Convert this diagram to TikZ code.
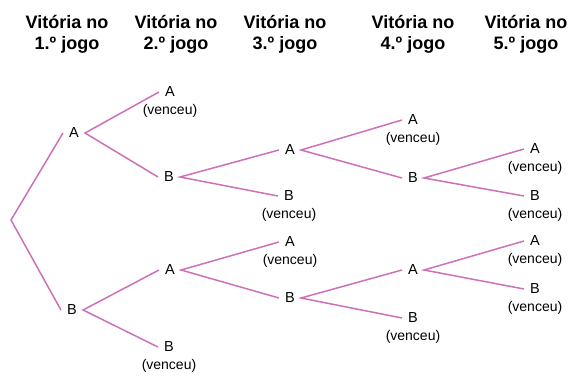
\documentclass[tikz,border=0pt]{standalone}
\usepackage{fontspec}
\setmainfont{Liberation Sans}
\begin{document}
\begin{tikzpicture}[x=1pt,y=-1pt,
  hdr/.style={font=\fontsize{18}{21}\selectfont\bfseries, align=center, inner sep=0pt},
  lt/.style={font=\fontsize{14.5}{16}\selectfont, inner sep=6pt},
  won/.style={lt, label={[font=\fontsize{14}{16}\selectfont, inner sep=0pt, yshift=-1pt]below:(venceu)}},
  br/.style={draw={rgb,255:red,206;green,112;blue,184}, line width=1.5pt}]
\useasboundingbox (0,0) rectangle (573,377);
% headers
\node[hdr] (h1) at (67,34) {Vitória no\\1.º jogo};
\node[hdr] (h2) at (176,34) {Vitória no\\2.º jogo};
\node[hdr] (h3) at (285,34) {Vitória no\\3.º jogo};
\node[hdr] (h4) at (413,34) {Vitória no\\4.º jogo};
\node[hdr] (h5) at (526,34) {Vitória no\\5.º jogo};
% tree
\coordinate (r) at (11,220);
\node[lt] (A1) at (74,133) {A};
\node[lt] (B1) at (72,310) {B};
\node[won] (A2) at (170,92) {A};
\node[lt] (B2) at (169,177) {B};
\node[lt] (A3) at (290,150) {A};
\node[won] (B3) at (289,196) {B};
\node[won] (A4) at (413,120) {A};
\node[lt] (B4) at (413,178) {B};
\node[won] (A5) at (535,149) {A};
\node[won] (B5) at (535,196) {B};
\node[lt] (A6) at (170,270) {A};
\node[won] (B6) at (169,347) {B};
\node[won] (A7) at (290,242) {A};
\node[lt] (B7) at (290,298) {B};
\node[lt] (A8) at (413,270) {A};
\node[won] (B8) at (413,318) {B};
\node[won] (A9) at (535,241) {A};
\node[won] (B9) at (535,289) {B};
% branches
\draw[br] (A1.west) -- (r) -- (B1.west);
\draw[br] (A2.west) -- (A1.east) -- (B2.west);
\draw[br] (A3.west) -- (B2.east) -- (B3.west);
\draw[br] (A4.west) -- (A3.east) -- (B4.west);
\draw[br] (A5.west) -- (B4.east) -- (B5.west);
\draw[br] (A6.west) -- (B1.east) -- (B6.west);
\draw[br] (A7.west) -- (A6.east) -- (B7.west);
\draw[br] (A8.west) -- (B7.east) -- (B8.west);
\draw[br] (A9.west) -- (A8.east) -- (B9.west);
\end{tikzpicture}
\end{document}
